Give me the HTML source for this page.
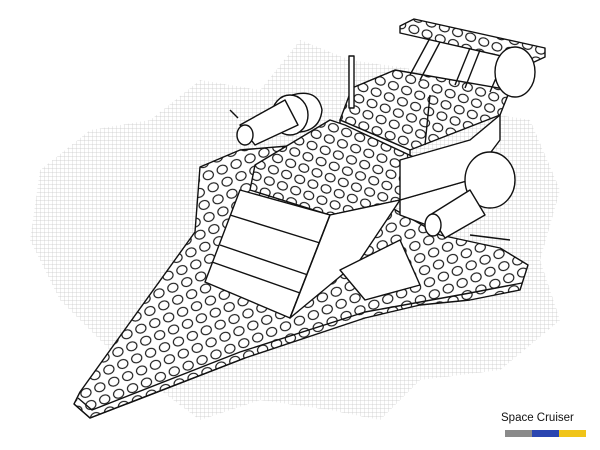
<!DOCTYPE html>
<html><head><style>
html,body{margin:0;padding:0;background:#fff;}
svg{display:block}
</style></head><body>
<svg width="600" height="450" viewBox="0 0 600 450" xmlns="http://www.w3.org/2000/svg">
<defs>
<pattern id="grid" width="4" height="4" patternUnits="userSpaceOnUse">
<path d="M4 0H0V4" fill="none" stroke="#c8c8c8" stroke-width="0.7"/>
</pattern>
<pattern id="studs" width="15" height="13" patternUnits="userSpaceOnUse" patternTransform="rotate(-22)">
<rect width="15" height="13" fill="#fff"/>
<ellipse cx="7.5" cy="6.5" rx="5.2" ry="4.3" fill="#fff" stroke="#111" stroke-width="1.1"/>
</pattern>
<pattern id="studs2" width="14" height="12" patternUnits="userSpaceOnUse" patternTransform="rotate(20)">
<rect width="14" height="12" fill="#fff"/>
<ellipse cx="7" cy="6" rx="5" ry="4.1" fill="#fff" stroke="#111" stroke-width="1.1"/>
</pattern>
</defs>
<rect width="600" height="450" fill="#fff"/>
<path d="M40 170 L90 130 L150 120 L200 80 L260 90 L300 40 L350 60 L420 70 L470 110 L530 120 L560 190 L540 260 L560 320 L500 370 L420 380 L380 420 L330 410 L260 400 L200 420 L120 360 L60 300 L30 240 Z" fill="url(#grid)"/>
<g stroke="#111" stroke-width="1.4" stroke-linejoin="round" fill="#fff">
<polygon points="200,167 240,150 300,145 360,190 440,235 500,248 528,265 520,290 470,300 420,305 365,318 245,358 150,395 90,418 74,404 80,392 195,232" fill="url(#studs)"/>
<polyline points="74,404 90,418 245,358" fill="none"/>
<polyline points="78,398 92,410 240,352 365,312 470,293 522,283" fill="none"/>
<polygon points="352,88 395,70 510,90 500,115 410,150 340,120" fill="url(#studs2)"/>
<polygon points="340,120 410,150 410,165 340,135" />
<polygon points="255,165 330,120 345,125 420,160 400,200 330,215 250,190" fill="url(#studs2)"/>
<polygon points="240,190 330,215 290,318 205,282"/>
<line x1="230" y1="215" x2="320" y2="243"/>
<line x1="220" y1="245" x2="308" y2="275"/>
<line x1="212" y1="262" x2="300" y2="293"/>
<polygon points="330,215 400,200 360,260 290,318"/>
<line x1="330" y1="215" x2="290" y2="318"/>
<polygon points="400,200 470,180 490,195 440,230 400,215"/>
<polygon points="340,270 400,240 420,285 365,300"/>
<polygon points="400,160 470,140 500,115 500,140 470,180 400,200"/>
<polygon points="400,26 414,19 545,48 545,57 532,63 400,33" fill="url(#studs2)"/>
<line x1="430" y1="38" x2="410" y2="75"/>
<line x1="440" y1="42" x2="420" y2="80"/>
<line x1="470" y1="48" x2="455" y2="85"/>
<line x1="480" y1="50" x2="465" y2="88"/>
<line x1="505" y1="57" x2="490" y2="92"/>
<rect x="349" y="56" width="5" height="52"/>
<line x1="430" y1="95" x2="425" y2="145"/>
<path d="M292 95 Q318 88 322 110 Q320 130 300 132 Z"/>
<ellipse cx="290" cy="115" rx="18" ry="20"/>
<path d="M240 125 L285 100 L298 125 L255 145 Z"/>
<ellipse cx="245" cy="135" rx="8" ry="10"/>
<ellipse cx="490" cy="180" rx="25" ry="28"/>
<path d="M430 215 L470 190 L485 215 L445 238 Z"/>
<ellipse cx="433" cy="225" rx="8" ry="11"/>
<ellipse cx="515" cy="72" rx="20" ry="25"/>
<line x1="470" y1="235" x2="510" y2="240"/>
<line x1="238" y1="118" x2="230" y2="110"/>
</g>
<text x="501" y="421" font-family="Liberation Sans, sans-serif" font-size="11.5" fill="#111">Space Cruiser</text>
<rect x="505" y="430" width="27" height="7" fill="#8a8a8a"/>
<rect x="532" y="430" width="27" height="7" fill="#2a45b0"/>
<rect x="559" y="430" width="27" height="7" fill="#f0c419"/>
</svg>
</body></html>
